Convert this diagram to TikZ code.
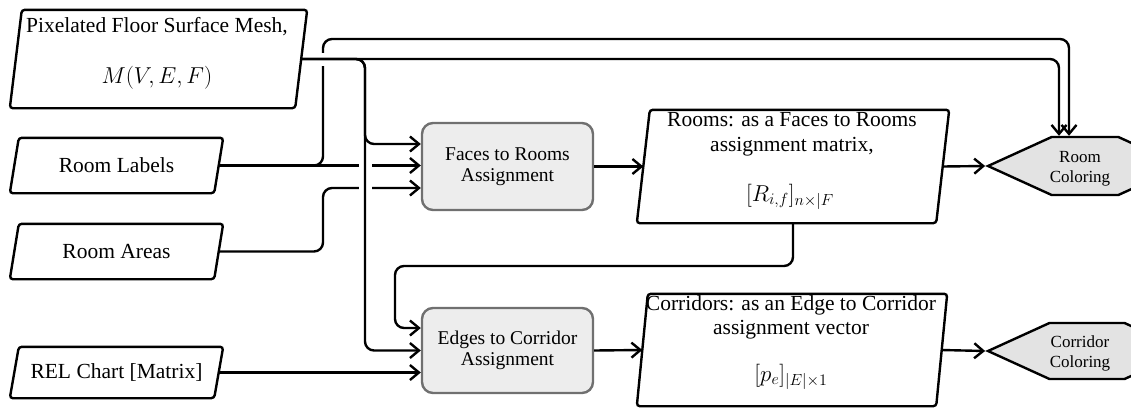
\RequirePackage{fix-cm}
\documentclass[tikz,border=0pt]{standalone}
\usepackage{fontspec}
\setmainfont{Liberation Serif}
\usetikzlibrary{shapes.symbols,arrows.meta}
\definecolor{boxfill}{HTML}{EDEDED}
\definecolor{boxline}{HTML}{707070}
\definecolor{hexfill}{HTML}{E3E3E3}
\newcommand{\fmain}{\fontsize{21.5}{24}\selectfont}
\newcommand{\fmath}{\fontsize{23}{26}\selectfont}
\newcommand{\fproc}{\fontsize{19.5}{21}\selectfont}
\newcommand{\fcol}{\fontsize{17}{20}\selectfont}
\newcommand{\drawpara}[2]{\draw[paraline] ([xshift=#2]#1.north west) -- (#1.north east)
  -- ([xshift=-#2]#1.south east) -- (#1.south west) -- cycle;}
\tikzset{
  wire/.style={line width=2.4pt, rounded corners=9pt},
  conn/.style={wire, -{Straight Barb[length=9pt,width=15pt]}},
  paraline/.style={line width=2.4pt, rounded corners=3pt},
  para/.style={rectangle, inner sep=0pt, font=\fmain},
  procbox/.style={rectangle, draw=boxline, fill=boxfill, line width=2.4pt,
    rounded corners=11pt, inner sep=0pt, minimum width=171, align=center, font=\fproc},
  hexbox/.style={signal, signal to=west and east, signal pointer angle=49,
    draw, fill=hexfill, line width=2.4pt, inner sep=0pt},
  txt/.style={inner sep=0pt, font=\fmain, anchor=base},
  mtxt/.style={inner sep=0pt, font=\fmath, anchor=base},
}
\begin{document}
\begin{tikzpicture}[x=1pt,y=-1pt]
\useasboundingbox (0,0) rectangle (1131,407);
\clip (0,0) rectangle (1131,407);

% input shapes
\node[para, minimum width=297, minimum height=98] (mesh) at (158.5,59) {};
\drawpara{mesh}{12pt}
\node[txt] (meshA) at (157,32) {Pixelated Floor Surface Mesh,};
\node[mtxt] (meshB) at (157,83) {$M(V,E,F)$};

\node[para, minimum width=213, minimum height=55] (rl) at (116.5,165.5) {Room Labels};
\drawpara{rl}{9pt}
\node[para, minimum width=213, minimum height=55] (ra) at (116.5,251.5) {Room Areas};
\drawpara{ra}{9pt}
\node[para, minimum width=213, minimum height=51] (rel) at (116.5,372.5) {REL Chart [Matrix]};
\drawpara{rel}{9pt}

% process boxes
\node[procbox, minimum height=87] (faces) at (507.5,166.5) {Faces to Rooms\\Assignment};
\node[procbox, minimum height=85] (edges) at (507.5,350.5) {Edges to Corridor\\Assignment};

% outputs
\node[para, minimum width=312, minimum height=113] (rooms) at (793,166.5) {};
\drawpara{rooms}{13pt}
\node[txt] (roomsA) at (792,126) {Rooms: as a Faces to Rooms};
\node[txt] (roomsB) at (792,151) {assignment matrix,};
\node[mtxt] (roomsC) at (790,201) {$[R_{i,f}]_{n\times|F}$};

\node[para, minimum width=310, minimum height=112] (corr) at (792,350) {};
\drawpara{corr}{11pt}
\node[txt] (corrA) at (791,310) {Corridors: as an Edge to Corridor};
\node[txt] (corrB) at (791,334) {assignment vector};
\node[mtxt] (corrC) at (791,381) {$[p_e]_{|E|\times 1}$};

\node[hexbox, minimum width=194, minimum height=58] (rc) at (1085,166) {};
\node[inner sep=0pt, align=center, font=\fcol] (rcT) at (1080,168.5) {Room\\Coloring};
\node[hexbox, minimum width=198, minimum height=56] (cc) at (1087,351) {};
\node[inner sep=0pt, align=center, font=\fcol] (ccT) at (1080,353.5) {Corridor\\Coloring};

% connectors (lower layer)
\draw[conn] ([xshift=-4.5pt]rl.east) -- (323,165.5) -- (323,39) -- (1069,39) -- (1069,0 |- rc.north);
\draw[conn] ([xshift=-4.5pt]rl.east) -- (faces.west |- rl.east);
\draw[conn] ([xshift=-4.5pt]ra.east) -- (323,251.5) -- (323,188) -- (faces.west |- 0,188);
\draw[conn] ([xshift=-4.5pt]rel.east) -- (edges.west |- rel.east);
\draw[conn] (rooms.south) -- (793,266) -- (395,266) -- (395,328) -- (edges.west |- 0,328);
\draw[conn] (faces.east) -- ([xshift=6.5pt]rooms.west);
\draw[conn] (edges.east) -- ([xshift=5.5pt]corr.west);
\draw[conn] ([xshift=-6.5pt]rooms.east) -- (rc.west);
\draw[conn] ([xshift=-5.5pt]corr.east) -- (cc.west);

% line jumps
\fill[white] (359,159) rectangle (372,195);
\fill[white] (317,53) rectangle (329,66);

% connectors (upper layer)
\draw[conn] ([xshift=-6pt]mesh.east) -- (1059,59) -- (1059,0 |- rc.north);
\draw[conn] ([xshift=-6pt]mesh.east) -- (365,59) -- (365,144) -- (faces.west |- 0,144);
\draw[conn] ([xshift=-6pt]mesh.east) -- (365,59) -- (365,350.5) -- (edges.west);
\end{tikzpicture}
\end{document}
